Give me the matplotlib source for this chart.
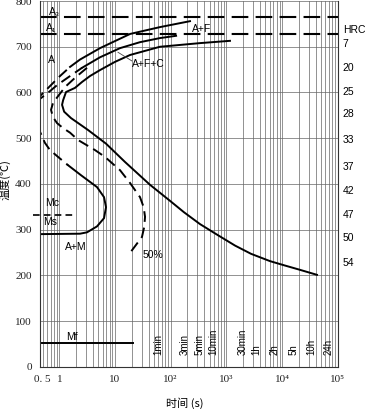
import numpy as np
import matplotlib
matplotlib.use('Agg')
import matplotlib.pyplot as plt
from matplotlib.ticker import LogLocator, NullFormatter

plt.rcParams['font.family'] = ['Liberation Sans', 'Noto Sans CJK SC', 'DejaVu Sans']

# --- data (time in s, temperature in C) ---
# ferrite start curve (A+F), dashed part then solid part
fs_t = [0.40, 0.45, 0.68, 1.03, 1.56, 2.35, 5.38, 18.6, 64.0, 222.0]
fs_T = [580, 592, 614, 636, 656, 672, 697, 728, 743, 756]
fs_dash_n = 5

# pearlite start curve
ps_t = [0.40, 0.45, 0.68, 0.91, 1.56, 2.56, 5.38, 12.3, 28.0, 64.0, 125.0]
ps_T = [575, 586, 603, 616, 636, 654, 677, 697, 710, 719, 724]
ps_dash_n = 6

# transformation finish curve (solid, with nose)
pf_t = [1160, 336, 64, 18.6, 10.0, 5.38, 3.56, 2.56, 1.91, 1.32, 1.17, 1.12, 1.22,
        1.62, 3.27, 6.9, 15.1, 42.5, 97.0, 173, 336, 678, 1430, 2770, 6070,
        10800, 20900, 42300]
pf_T = [713, 708, 700, 682, 667, 649, 636, 623, 610, 601, 583, 573, 558,
        544, 518, 488, 448, 398, 363, 338, 312, 289, 265, 247, 231,
        222, 212, 201]

# 50 % transformation curve (dashed)
p50_t = [3.14, 1.91, 1.27, 0.95, 0.77, 0.71, 0.77, 0.91, 1.17, 1.56, 2.17, 4.37,
         6.61, 12.3, 18.6, 28.1, 32.7, 34.6, 33.5, 30.5, 18.6]
p50_T = [654, 632, 612, 592, 577, 562, 546, 533, 522, 512, 496, 474,
         459, 430, 402, 371, 349, 328, 306, 284, 249]

# lower start curve (bainite / martensite region)
bs_dash_t = [0.40, 0.45, 0.55, 0.68, 0.95, 1.43]
bs_dash_T = [529, 514, 490, 474, 459, 441]
bs_t = [1.43, 2.45, 4.75, 6.35, 6.89, 6.35, 4.75, 3.14, 2.35, 0.40]
bs_T = [441, 419, 393, 371, 349, 325, 307, 294, 291, 290]

A3 = 765
A1 = 727
Mc_T = 333
Mc_t = [0.337, 1.76]
Mf_T = 51
Mf_t = [0.40, 21.3]

hrc_labels = ['HRC', '7', '20', '25', '28', '33', '37', '42', '47', '50', '54']
hrc_T = [737, 706, 654, 601, 553, 496, 437, 384, 332, 282, 227]

time_labels = ['1min', '3min', '5min', '10min', '30min', '1h', '2h', '5h', '10h', '24h']
time_pos = [60, 180, 336, 580, 2000, 3500, 7400, 16000, 34000, 67000]

xticks = [0.5, 1, 10, 100, 1e3, 1e4, 1e5]
xticklabels = ['0. 5', '1', '10', '10²', '10³', '10⁴', '10⁵']
yticks = [0, 100, 200, 300, 400, 500, 600, 700, 800]

fig = plt.figure(figsize=(3.68, 4.09), dpi=100)
ax = fig.add_axes([0.1087, 0.1034, 0.8092, 0.894])
ax.set_xscale('log')
ax.set_xlim(0.45, 1e5)
ax.set_ylim(0, 800)

ax.xaxis.set_minor_locator(LogLocator(base=10, subs=np.arange(2, 10), numticks=20))
ax.xaxis.set_minor_formatter(NullFormatter())
ax.set_xticks(xticks)
ax.set_xticklabels(xticklabels, family=['Liberation Serif', 'DejaVu Serif'], fontsize=8)
ax.set_yticks(yticks)
ax.set_yticklabels([str(v) for v in yticks], family=['Liberation Serif', 'DejaVu Serif'], fontsize=8)
ax.tick_params(which='both', length=0, pad=6, colors='#222222')
ax.grid(which='both', axis='x', color='#666666', lw=0.5)
ax.grid(which='major', axis='y', color='#666666', lw=0.5)
ax.spines['top'].set_visible(False)
for s in ['left', 'bottom', 'right']:
    ax.spines[s].set_color('#333333')
    ax.spines[s].set_linewidth(0.8)

lw = 1.4
dash = (0, (5.5, 3))
k = 'black'

ax.plot(fs_t[:fs_dash_n], fs_T[:fs_dash_n], color=k, lw=lw, ls=dash)
ax.plot(fs_t[fs_dash_n - 1:], fs_T[fs_dash_n - 1:], color=k, lw=lw)
ax.plot(ps_t[:ps_dash_n], ps_T[:ps_dash_n], color=k, lw=lw, ls=dash)
ax.plot(ps_t[ps_dash_n - 1:], ps_T[ps_dash_n - 1:], color=k, lw=lw)
ax.plot(pf_t, pf_T, color=k, lw=lw)
ax.plot(p50_t, p50_T, color=k, lw=lw, ls=dash)
ax.plot(bs_dash_t, bs_dash_T, color=k, lw=lw, ls=dash)
ax.plot(bs_t, bs_T, color=k, lw=lw)

ax.axhline(A3, color=k, lw=1.5, ls=(0, (8, 3.5)))
ax.axhline(A1, color=k, lw=1.5, ls=(0, (8, 3.5)))
ax.plot(Mc_t, [Mc_T, Mc_T], color=k, lw=1.2, ls=(0, (4, 2.5)), clip_on=False)
ax.plot(Mf_t, [Mf_T, Mf_T], color=k, lw=lw)

# region labels
fs = 7.5
ax.text(0.66, 776, 'A₃', fontsize=fs, va='center')
ax.text(0.58, 741, 'A₁', fontsize=fs, va='center')
ax.text(0.63, 671, 'A', fontsize=fs, va='center')
ax.text(241, 739, 'A+F', fontsize=fs, va='center')
ax.text(20.1, 662, 'A+F+C', fontsize=fs, va='center')
ax.plot([20.1, 11.3], [669, 688], color='#444444', lw=0.6)
ax.text(0.55, 358, 'Mc', fontsize=fs, va='center')
ax.text(0.51, 317, 'Ms', fontsize=fs, va='center')
ax.text(1.27, 262, 'A+M', fontsize=fs, va='center')
ax.text(31.8, 244, '50%', fontsize=fs, va='center')
ax.text(1.32, 66, 'Mf', fontsize=fs, va='center')

for lab, x in zip(time_labels, time_pos):
    ax.text(x, 25, lab, fontsize=7, rotation=90, ha='center', va='bottom')

for lab, T in zip(hrc_labels, hrc_T):
    ax.text(1.017, T, lab, fontsize=7.5, va='center', ha='left',
            transform=ax.get_yaxis_transform())

fig.text(5 / 368, 1 - 180 / 409, '温度(℃)', rotation=90, fontsize=8,
         family=['Noto Sans CJK SC', 'DejaVu Sans'], ha='center', va='center')
fig.text(185 / 368, 1 - 403 / 409, '时间 (s)', fontsize=8,
         family=['Noto Sans CJK SC', 'DejaVu Sans'], ha='center', va='center')

fig.savefig('out.png', dpi=100)
